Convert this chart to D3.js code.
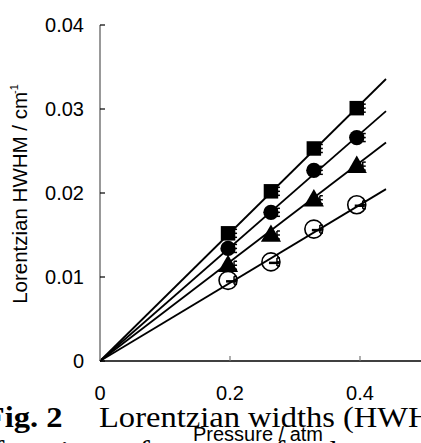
<!DOCTYPE html>
<html>
<head>
<meta charset="utf-8">
<script src="https://cdn.jsdelivr.net/npm/d3@7"></script>
<style>
  body { margin: 0; background: #fff; overflow: hidden; }
  svg { display: block; }
</style>
</head>
<body>
<svg id="chart" width="421" height="443"></svg>
<script>
// pressures in atm (150, 200, 250, 300 Torr)
const pressures = [0.197, 0.263, 0.329, 0.395];
const seriesNames = ["square", "circle", "triangle", "open"];
const squareVals = [0.0152, 0.0202, 0.0253, 0.0301];
const circleVals = [0.0134, 0.0177, 0.0227, 0.0266];
const triangleVals = [0.0114, 0.0150, 0.0192, 0.0232];
const openVals = [0.0096, 0.0118, 0.0157, 0.0186];
// fitted slopes (cm-1 / atm), lines pass through origin
const slopes = [0.0763, 0.0676, 0.0591, 0.0465];
const fitEnd = 0.44;
const xTicks = [0, 0.2, 0.4];
const yTicks = [0, 0.01, 0.02, 0.03, 0.04];

const svg = d3.select("#chart");
const x = d3.scaleLinear().domain([0, 0.5]).range([100, 425]);
const y = d3.scaleLinear().domain([0, 0.04]).range([361, 25]);

const series = [squareVals, circleVals, triangleVals, openVals];

// fit lines
slopes.forEach(s => {
    svg.append("line")
        .attr("x1", x(0)).attr("y1", y(0))
        .attr("x2", x(fitEnd)).attr("y2", y(s * fitEnd))
        .attr("stroke", "#000")
        .attr("stroke-width", 1.8);
});

// y axis
svg.append("line")
    .attr("x1", x(0)).attr("x2", x(0))
    .attr("y1", y(0)).attr("y2", y(0.04))
    .attr("stroke", "#777").attr("stroke-width", 1.5);
yTicks.forEach(t => {
    svg.append("line")
        .attr("x1", x(0)).attr("x2", x(0) + 5)
        .attr("y1", y(t)).attr("y2", y(t))
        .attr("stroke", "#000").attr("stroke-width", 1.2);
    svg.append("text")
        .attr("x", 84).attr("y", y(t))
        .attr("dy", "0.36em")
        .attr("text-anchor", "end")
        .attr("font-family", "Liberation Sans, Arial, sans-serif")
        .attr("font-size", 20)
        .text(t === 0 ? "0" : t.toFixed(2));
});

// x axis
svg.append("line")
    .attr("x1", x(0)).attr("x2", 421)
    .attr("y1", y(0)).attr("y2", y(0))
    .attr("stroke", "#000").attr("stroke-width", 1.5);
xTicks.forEach(t => {
    if (t > 0) {
        svg.append("line")
            .attr("x1", x(t)).attr("x2", x(t))
            .attr("y1", y(0)).attr("y2", y(0) - 5)
            .attr("stroke", "#777").attr("stroke-width", 1.2);
    }
    svg.append("text")
        .attr("x", x(t)).attr("y", 400)
        .attr("text-anchor", "middle")
        .attr("font-family", "Liberation Sans, Arial, sans-serif")
        .attr("font-size", 20)
        .text(t === 0 ? "0" : t.toFixed(1));
});

// markers
const sym = {
    square: d3.symbol().type(d3.symbolSquare).size(210),
    circle: d3.symbol().type(d3.symbolCircle).size(185),
    triangle: d3.symbol().type(d3.symbolTriangle).size(175),
    open: d3.symbol().type(d3.symbolCircle).size(255)
};
series.forEach((vals, i) => {
    const name = seriesNames[i];
    vals.forEach((v, j) => {
        const cx = x(pressures[j]), cy = y(v);
        // small error bars at right edge of marker
        const ex = cx + 6;
        svg.append("line").attr("x1", ex).attr("x2", ex)
            .attr("y1", cy - 4).attr("y2", cy + 4)
            .attr("stroke", "#000").attr("stroke-width", 1.5);
        [-4, 0, 4].forEach(d => {
            svg.append("line").attr("x1", ex).attr("x2", ex + 3)
                .attr("y1", cy + d).attr("y2", cy + d)
                .attr("stroke", "#000").attr("stroke-width", 1.5);
        });
        const p = svg.append("path")
            .attr("d", sym[name]())
            .attr("transform", `translate(${cx},${cy + (name === "triangle" ? 1 : 0)})`);
        if (name === "open") {
            p.attr("fill", "none").attr("stroke", "#000").attr("stroke-width", 1.6);
            svg.append("line").attr("x1", cx - 2).attr("x2", cx + 8)
                .attr("y1", cy + 1).attr("y2", cy + 1)
                .attr("stroke", "#000").attr("stroke-width", 2.5);
        } else {
            p.attr("fill", "#000");
        }
    });
});

// axis titles
const yl = svg.append("text")
    .attr("transform", "translate(27,194) rotate(-90)")
    .attr("text-anchor", "middle")
    .attr("font-family", "Liberation Sans, Arial, sans-serif")
    .attr("font-size", 20.5);
yl.append("tspan").text("Lorentzian HWHM / cm");
yl.append("tspan").attr("font-size", 11).attr("dy", -9).attr("dx", -2).text("-1");

// caption (figure is cropped from a page)
const capScale = 1.085;
const cap = svg.append("text")
    .attr("transform", `scale(${capScale},1)`)
    .attr("x", -14).attr("y", 427)
    .attr("font-family", "Liberation Serif, Times New Roman, serif")
    .attr("font-size", 30);
cap.append("tspan").attr("font-weight", "bold").text("Fig. 2");
cap.append("tspan").attr("x", 99 / capScale).text("Lorentzian widths (HWHM)");

svg.append("text")
    .attr("transform", `scale(${capScale},1)`)
    .attr("x", -6).attr("y", 461)
    .attr("font-family", "Liberation Serif, Times New Roman, serif")
    .attr("font-size", 30)
    .text("functions of pressure for the");

svg.append("text")
    .attr("x", 258).attr("y", 441)
    .attr("text-anchor", "middle")
    .attr("font-family", "Liberation Sans, Arial, sans-serif")
    .attr("font-size", 20)
    .text("Pressure / atm");
</script>
</body>
</html>
